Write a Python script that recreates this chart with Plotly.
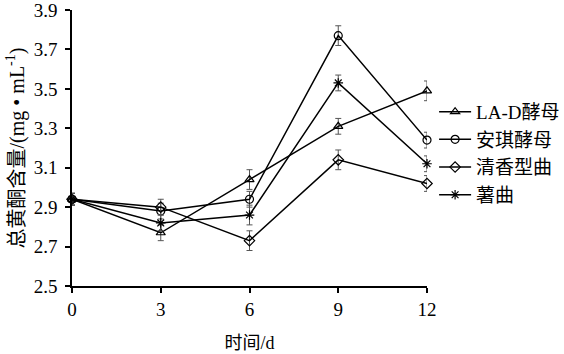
import plotly.graph_objects as go

days = [0, 3, 6, 9, 12]
series_names = ["LA-D酵母", "安琪酵母", "清香型曲", "薯曲"]
la_d = [2.94, 2.77, 3.04, 3.31, 3.49]
anqi = [2.94, 2.88, 2.94, 3.77, 3.24]
qingxiang = [2.94, 2.90, 2.73, 3.14, 3.02]
shuqu = [2.94, 2.82, 2.86, 3.53, 3.12]
err_la_d = [0.03, 0.04, 0.05, 0.04, 0.05]
err_anqi = [0.03, 0.04, 0.04, 0.05, 0.04]
err_qingxiang = [0.03, 0.04, 0.05, 0.05, 0.04]
err_shuqu = [0.03, 0.04, 0.05, 0.04, 0.04]
symbols = ["triangle-up-open", "circle-open", "diamond-open", "asterisk-open"]
y_ticks = [2.5, 2.7, 2.9, 3.1, 3.3, 3.5, 3.7, 3.9]

font_family = "Liberation Serif, Times New Roman, Noto Sans CJK SC, serif"

fig = go.Figure()
for name, vals, errs, sym in zip(series_names, [la_d, anqi, qingxiang, shuqu],
                                 [err_la_d, err_anqi, err_qingxiang, err_shuqu], symbols):
    fig.add_trace(go.Scatter(
        x=days, y=vals, name=name, mode="lines+markers",
        line=dict(color="black", width=1.5),
        marker=dict(symbol=sym, size=8, color="black", line=dict(width=1.2, color="black")),
        error_y=dict(type="data", array=errs, visible=True, color="#555", thickness=1, width=3),
        cliponaxis=False,
    ))

fig.update_layout(
    width=564, height=354,
    margin=dict(l=72, r=137, t=10, b=68, autoexpand=False),
    paper_bgcolor="white", plot_bgcolor="white",
    font=dict(family=font_family, size=18, color="black"),
    showlegend=True,
    legend=dict(x=1.02, y=0.70, xanchor="left", yanchor="top",
                font=dict(family=font_family, size=19, color="black"),
                bgcolor="rgba(0,0,0,0)", itemwidth=32),
)
fig.update_xaxes(
    range=[0, 12], tickvals=days, ticktext=[str(d) for d in days],
    showline=True, linecolor="black", linewidth=1.5,
    ticks="outside", ticklen=5, tickcolor="black", tickwidth=1.5,
    showgrid=False, zeroline=False, automargin=False,
    title=dict(text="时间/d", font=dict(size=18), standoff=18),
    tickfont=dict(size=19),
)
fig.update_yaxes(
    range=[2.5, 3.9], tickvals=y_ticks, ticktext=[f"{v:.1f}" for v in y_ticks],
    showline=True, linecolor="black", linewidth=1.5,
    ticks="outside", ticklen=5, tickcolor="black", tickwidth=1.5,
    showgrid=False, zeroline=False, ticklabeloverflow="allow", automargin=False,
    ticklabelstandoff=4,
    title=dict(text="总黄酮含量/(mg • mL<sup>-1</sup>)", font=dict(size=20), standoff=4),
    tickfont=dict(size=19),
)

fig.write_html("out.html")
